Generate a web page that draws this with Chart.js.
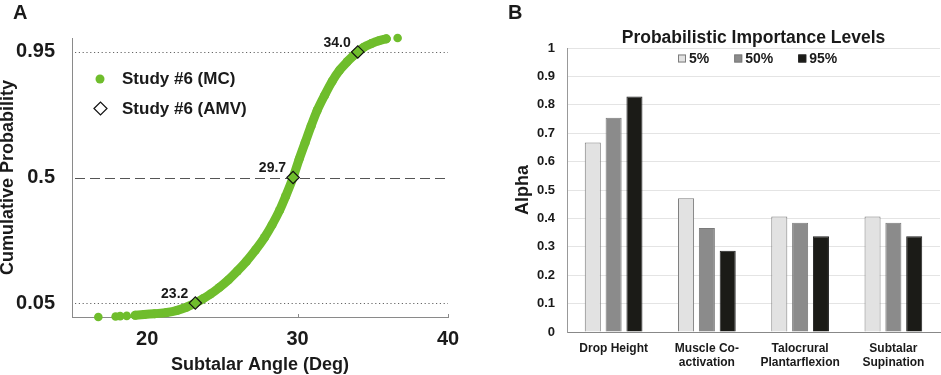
<!DOCTYPE html>
<html><head><meta charset="utf-8">
<script src="https://cdn.jsdelivr.net/npm/chart.js@4/dist/chart.umd.min.js"></script>
<style>
html,body{margin:0;padding:0;background:#fff;}
#wrap{position:relative;width:941px;height:375px;overflow:hidden;background:#fff;}
#ca{position:absolute;left:0;top:0;}
#cb{position:absolute;left:470px;top:0;}
</style></head><body>
<div id="wrap">
<canvas id="ca" width="470" height="375"></canvas>
<canvas id="cb" width="471" height="375"></canvas>
</div>
<script>
// ---------- Panel A data ----------
const mcAngle = [19.2, 19.8, 20.5, 21.3, 22.0, 22.6, 23.2, 23.7, 24.2, 24.8, 25.4, 26.0, 26.6, 27.2, 27.8, 28.3, 28.8, 29.2, 29.7, 30.1, 30.5, 30.9, 31.3, 31.8, 32.3, 32.8, 33.3, 33.7, 34.0, 34.4, 34.9, 35.4, 35.9];
const mcProb  = [0.006, 0.009, 0.012, 0.016, 0.024, 0.035, 0.05, 0.065, 0.082, 0.106, 0.133, 0.165, 0.2, 0.24, 0.285, 0.33, 0.382, 0.432, 0.5, 0.565, 0.625, 0.685, 0.74, 0.795, 0.845, 0.885, 0.915, 0.936, 0.95, 0.967, 0.98, 0.99, 0.997];
const mcTailAngle = [16.75, 17.9, 18.2, 18.64, 36.65];
const mcTailProb  = [0.0, 0.002, 0.003, 0.004, 1.0];
const amvAngle = [23.2, 29.7, 34.0];
const amvProb  = [0.05, 0.5, 0.95];
const amvLabels = ['23.2', '29.7', '34.0'];
const angleTicks = [20, 30, 40];
const probTicks = [0.05, 0.5, 0.95];
const legendA = ['Study #6 (MC)', 'Study #6 (AMV)'];

// ---------- Panel B data ----------
const categories = [['Drop Height'], ['Muscle Co-', 'activation'], ['Talocrural', 'Plantarflexion'], ['Subtalar', 'Supination']];
const levels = ['5%', '50%', '95%'];
const alpha5  = [0.667, 0.471, 0.407, 0.407];
const alpha50 = [0.754, 0.366, 0.385, 0.385];
const alpha95 = [0.829, 0.286, 0.337, 0.337];

const FONT = '"Liberation Sans", Arial, Helvetica, sans-serif';
const TXT = '#1a1a1a';
const GREEN = '#6fbd2c';
Chart.defaults.font.family = FONT;
Chart.defaults.color = TXT;

const pts = (xs, ys) => xs.map((v, i) => ({x: v, y: ys[i]}));

// ---------- Panel A ----------
const panelA = {
  id: 'panelA',
  beforeDatasetsDraw(chart) {
    const {ctx, chartArea: a, scales: {x, y}} = chart;
    ctx.save();
    probTicks.forEach((p, i) => {
      const py = Math.round(y.getPixelForValue(p)) + 0.5;
      ctx.beginPath();
      ctx.lineWidth = 1;
      if (i === 1) { ctx.strokeStyle = '#555'; ctx.setLineDash([10, 5]); }
      else { ctx.strokeStyle = '#666'; ctx.setLineDash([1.2, 2.6]); }
      ctx.moveTo(a.left + 3, py); ctx.lineTo(a.right, py); ctx.stroke();
    });
    ctx.setLineDash([]);
    ctx.strokeStyle = '#8a8a8a';
    angleTicks.forEach(v => {
      const px = Math.round(x.getPixelForValue(v)) + 0.5;
      ctx.beginPath(); ctx.moveTo(px, a.bottom); ctx.lineTo(px, a.bottom - 3); ctx.stroke();
    });
    ctx.restore();
  },
  afterDraw(chart) {
    const {ctx, scales: {x, y}} = chart;
    ctx.save();
    ctx.fillStyle = TXT;
    ctx.font = 'bold 14px ' + FONT;
    ctx.textAlign = 'right'; ctx.textBaseline = 'middle';
    amvAngle.forEach((v, i) => {
      ctx.fillText(amvLabels[i], x.getPixelForValue(v) - 7, y.getPixelForValue(amvProb[i]) - 9);
    });
    ctx.beginPath(); ctx.fillStyle = GREEN; ctx.arc(100, 79, 4.5, 0, Math.PI * 2); ctx.fill();
    ctx.beginPath(); ctx.moveTo(94, 108.5); ctx.lineTo(100.5, 102); ctx.lineTo(107, 108.5); ctx.lineTo(100.5, 115); ctx.closePath();
    ctx.fillStyle = '#fff'; ctx.fill(); ctx.strokeStyle = '#111'; ctx.lineWidth = 1.2; ctx.stroke();
    ctx.fillStyle = TXT; ctx.textAlign = 'left';
    ctx.font = 'bold 17px ' + FONT;
    ctx.fillText(legendA[0], 122, 79);
    ctx.fillText(legendA[1], 122, 109);
    ctx.font = 'bold 20px ' + FONT;
    ctx.fillText('A', 13, 13);
    ctx.restore();
  }
};

new Chart(document.getElementById('ca'), {
  type: 'scatter',
  data: {
    datasets: [
      {label: legendA[1], data: pts(amvAngle, amvProb), pointStyle: 'rectRot', pointRadius: 6.2,
       borderColor: '#111', borderWidth: 1.2, backgroundColor: 'rgba(0,0,0,0)', order: 0, clip: false},
      {label: legendA[0], data: pts(mcAngle, mcProb), showLine: true, borderColor: GREEN, borderWidth: 9,
       backgroundColor: GREEN, pointRadius: 4.5, pointBorderWidth: 0, cubicInterpolationMode: 'monotone',
       borderCapStyle: 'round', order: 1, clip: false},
      {label: 'tail', data: pts(mcTailAngle, mcTailProb), backgroundColor: GREEN, pointRadius: 4.3,
       pointBorderWidth: 0, order: 2, clip: false}
    ]
  },
  options: {
    responsive: false, animation: false, events: [],
    layout: {padding: {left: 0, top: 38, right: 22, bottom: 0}},
    plugins: {legend: {display: false}, tooltip: {enabled: false}},
    scales: {
      x: {
        type: 'linear', min: 15, max: 40,
        afterBuildTicks: s => { s.ticks = angleTicks.map(v => ({value: v})); },
        afterFit: s => { s.height = 58; },
        grid: {display: false},
        border: {display: true, color: '#8a8a8a', width: 1},
        ticks: {font: {size: 20, weight: 'bold'}, color: TXT, padding: 2, maxRotation: 0},
        title: {display: true, text: 'Subtalar Angle (Deg)', font: {size: 18, weight: 'bold'}, color: TXT, padding: {top: 0, bottom: -1}}
      },
      y: {
        type: 'linear', min: 0, max: 1,
        afterBuildTicks: s => { s.ticks = probTicks.map(v => ({value: v})); },
        afterFit: s => { s.width = 72; },
        grid: {display: false},
        border: {display: true, color: '#8a8a8a', width: 1},
        ticks: {font: {size: 20, weight: 'bold'}, color: TXT, padding: 9, callback: v => String(v)},
        title: {display: true, text: 'Cumulative Probability', font: {size: 18, weight: 'bold', lineHeight: 0.85}, color: TXT, padding: 0}
      }
    }
  },
  plugins: [panelA]
});

// ---------- Panel B ----------
const barFill = ['#e2e2e2', '#8b8b8b', '#1b1b17'];
const barBorder = ['#7d7d7d', '#7a7a7a', '#222'];

const panelB = {
  id: 'panelB',
  afterDraw(chart) {
    const {ctx, chartArea: a} = chart;
    ctx.save();
    ctx.fillStyle = TXT; ctx.textBaseline = 'middle';
    ctx.font = 'bold 17.5px ' + FONT; ctx.textAlign = 'center';
    ctx.fillText('Probabilistic Importance Levels', (a.left + a.right) / 2, 38);
    ctx.font = 'bold 14px ' + FONT; ctx.textAlign = 'left';
    let lx = 208;
    levels.forEach((lv, i) => {
      ctx.fillStyle = barFill[i];
      ctx.fillRect(lx, 54.5, 8, 8);
      ctx.strokeStyle = barBorder[i]; ctx.lineWidth = 1;
      ctx.strokeRect(lx + 0.5, 55, 7, 7);
      ctx.fillStyle = TXT;
      ctx.fillText(lv, lx + 11, 59);
      lx += 11 + ctx.measureText(lv).width + 25;
    });
    ctx.font = 'bold 20px ' + FONT;
    ctx.fillText('B', 38, 13);
    ctx.restore();
  }
};

new Chart(document.getElementById('cb'), {
  type: 'bar',
  data: {
    labels: categories,
    datasets: [alpha5, alpha50, alpha95].map((d, i) => ({
      label: levels[i], data: d, backgroundColor: barFill[i], borderColor: barBorder[i],
      borderWidth: 1, categoryPercentage: 0.67, barPercentage: 0.77
    }))
  },
  options: {
    responsive: false, animation: false, events: [],
    layout: {padding: {left: 42, top: 48, right: 1, bottom: 0}},
    plugins: {legend: {display: false}, tooltip: {enabled: false}},
    scales: {
      x: {
        afterFit: s => { s.height = 43; },
        grid: {display: false},
        border: {display: true, color: '#888', width: 1},
        ticks: {font: {size: 12, weight: 'bold'}, color: TXT, padding: 1.5, maxRotation: 0, autoSkip: false}
      },
      y: {
        min: 0, max: 1,
        afterFit: s => { s.width = 55; },
        grid: {color: '#e4e4e4', drawTicks: false},
        border: {display: true, color: '#999', width: 1},
        ticks: {stepSize: 0.1, font: {size: 13, weight: 'bold'}, color: TXT, padding: 12,
                callback: v => String(Math.round(v * 10) / 10)},
        title: {display: true, text: 'Alpha', font: {size: 18, weight: 'bold'}, color: TXT, padding: 0}
      }
    }
  },
  plugins: [panelB]
});
</script>
</body></html>
